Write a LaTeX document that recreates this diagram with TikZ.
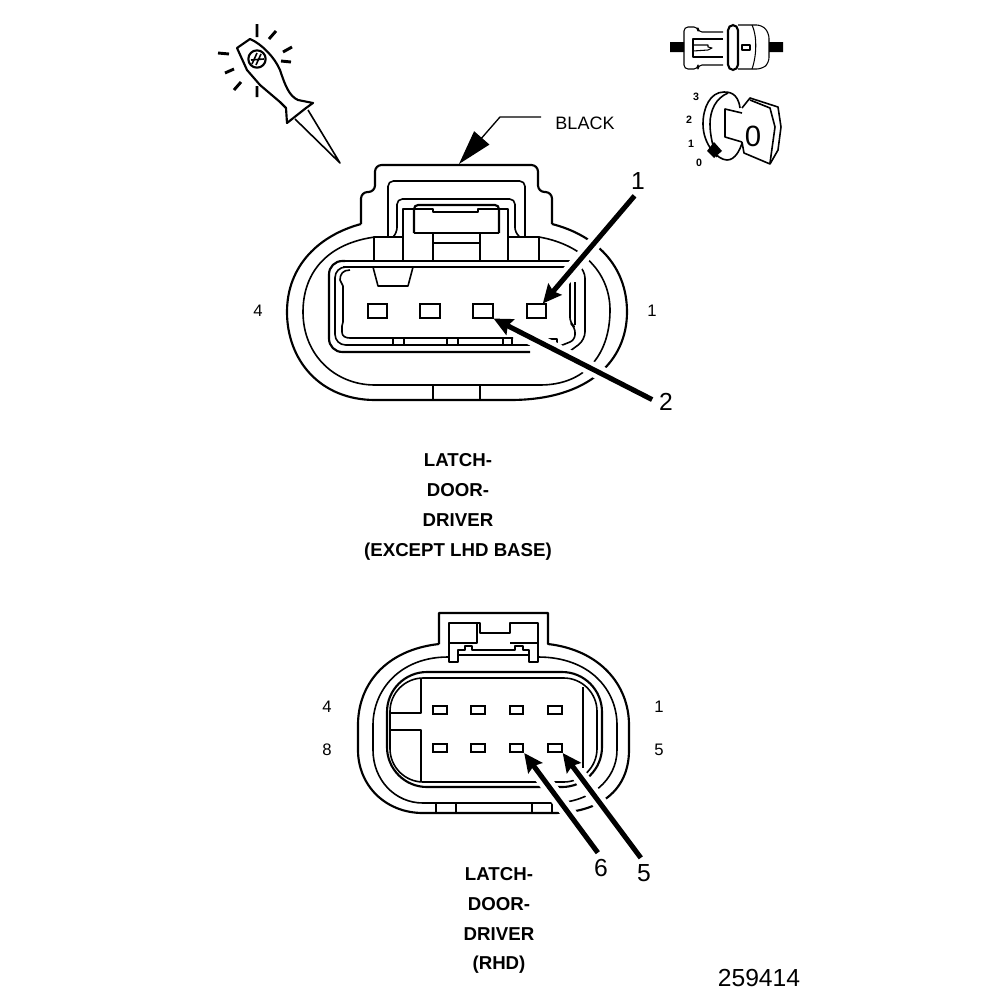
\documentclass[tikz,border=0pt]{standalone}
\usepackage{fontspec}
\setmainfont{Liberation Sans}
\usetikzlibrary{arrows.meta}
\tikzset{
    every picture/.style={x=0.75pt,y=-0.75pt},
    heavy/.style={line width=1.6pt,line join=round},
    medium/.style={line width=1.2pt,line join=round},
    thin line/.style={line width=0.8pt,line join=round},
    ray/.style={line width=2.2pt},
    pinbox/.style={shape=rectangle,draw=black,line width=1.6pt,inner sep=0pt,minimum width=14.5pt,minimum height=10pt},
    smallpin/.style={shape=rectangle,draw=black,line width=1.5pt,inner sep=0pt,minimum width=10pt,minimum height=6pt},
    pinlabel/.style={inner sep=1pt,font=\fontsize{12.5}{14}\selectfont},
    callnum/.style={inner sep=1.5pt,font=\fontsize{18.5}{20}\selectfont},
    title/.style={inner sep=1pt,font=\bfseries\fontsize{14}{16}\selectfont},
    dial/.style={inner sep=0pt,font=\bfseries\fontsize{8}{9}\selectfont},
    callout/.style={line width=3.8pt,shorten <=4pt,-{Stealth[length=14pt,width=13pt,inset=2pt]},
        preaction={draw=white,line width=11pt,arrows=-,shorten >=20pt}},
}
\begin{document}
\begin{tikzpicture}
    \useasboundingbox (0,0) rectangle (1008,1000);

    % probe
    \draw[heavy] (237,48) -- (250,39) .. controls (262,44) and (275,58) .. (280,70) .. controls (285,85) and (289,96) .. (298,100) -- (313,103) -- (306,108) -- (287,123) -- (286,108) -- (280,102) -- (260,85) -- (247,70) -- cycle;
    \draw[medium] (295,119) -- (340,163) -- (308,110);
    \draw[heavy] (257,59) circle (6.5pt);
    \draw[medium] (252,64) -- (257,53) (256,65) -- (261,54) (251,60) -- (264,59);
    \draw[ray] (257,24) -- (257,37) (276,31) -- (269,39) (292,47) -- (283,52) (291,62) -- (281,61);
    \draw[ray] (234,69) -- (225,73) (241,82) -- (234,90) (257,86) -- (257,97) (229,54) -- (218,53);

    % upper right view
    \fill (670,42) rectangle (684,52) (769,42) rectangle (783,52);
    \draw[thin line, rounded corners=3pt] (723,32) -- (698,32) -- (698,27) -- (684,27) -- (684,69) -- (698,69) -- (698,65) -- (723,65);
    \draw[thin line] (723,39) -- (693,39) -- (693,57) -- (723,57);
    \draw[thin line] (693,45) -- (708,45) -- (708,47) -- (712,48) -- (708,50) -- (693,51);
    \draw[heavy, rounded corners=4pt] (728,25) rectangle (738,70);
    \draw[thin line, rounded corners=4pt] (738,25) -- (762,25) -- (769,33) -- (769,63) -- (762,69) -- (738,69);
    \draw[thin line] (752,25) .. controls (757,35) and (757,55) .. (752,69);
    \draw[thin line] (742,45) rectangle (750,50);

    % key
    \draw[medium] (740,108) .. controls (738,92) and (728,92) .. (724,92) .. controls (710,92) and (703,108) .. (703,124) .. controls (703,145) and (718,160) .. (727,160) .. controls (735,160) and (740,150) .. (742,143);
    \draw[medium] (728,93) .. controls (716,98) and (710,110) .. (710,124) .. controls (710,135) and (713,148) .. (717,157);
    \draw[medium] (742,113) -- (725,109) -- (725,137) -- (742,142);
    \draw[medium] (742,108) -- (750,98) -- (778,107) -- (781,127) -- (778,150) -- (770,164) -- (744,153) -- (742,142);
    \draw[medium] (750,100) -- (770,108) -- (775,127) -- (770,163);
    \fill (714,142) -- (722,151) -- (714,158) -- (707,151) -- cycle;
    \node[inner sep=0pt,font=\fontsize{22}{24}\selectfont] at (753,136) (dialzero) {0};
    \node[dial] at (696,97) (dialC) {3};
    \node[dial] at (689,120) (dialB) {2};
    \node[dial] at (691,144) (dialA) {1};
    \node[dial] at (699,163) (dialO) {0};

    % upper connector
    \draw[heavy] (361,224) .. controls (320,235) and (287,265) .. (287,312) .. controls (287,360) and (320,400) .. (375,400) -- (510,400) .. controls (590,400) and (627,360) .. (627,312) .. controls (627,265) and (595,235) .. (552,224);
    \draw[heavy, rounded corners=5pt] (361,224) -- (361,192) -- (375,192) -- (375,165) -- (538,165) -- (538,192) -- (552,192) -- (552,224);
    \draw[medium] (375,237) .. controls (330,243) and (303,270) .. (303,312) .. controls (303,355) and (335,385) .. (375,385) -- (540,385) .. controls (585,385) and (610,355) .. (610,310) .. controls (610,275) and (585,245) .. (539,237);
    \draw[heavy] (433,385) -- (433,400) (480,385) -- (480,400);
    \draw[medium, rounded corners=4pt] (388,237) -- (388,181) -- (525,181) -- (525,237);
    \draw[medium, rounded corners=4pt] (393,237) -- (397,233) -- (397,199) -- (515,199) -- (515,233) -- (520,237);
    \draw[medium] (403,260) -- (403,209) -- (414,209) (499,209) -- (508,209) -- (508,260);
    \draw[heavy, rounded corners=3pt] (414,233) -- (414,205) -- (499,205) -- (499,233);
    \draw[heavy] (414,233) -- (499,233);
    \draw[medium] (414,209) -- (433,209) -- (433,212) -- (478,212) -- (478,209) -- (499,209);
    \draw[medium] (433,233) -- (433,260) (480,233) -- (480,260) (433,243) -- (480,243);
    \draw[medium] (403,237) -- (374,237) -- (374,260) (508,237) -- (539,237) -- (539,260);
    \draw[heavy] (343,261) -- (570,261) (343,267) -- (565,267);
    \draw[heavy, rounded corners=10pt] (345,261) -- (329,261) -- (329,352) -- (530,352);
    \draw[medium, rounded corners=8pt] (345,267) -- (335,267) -- (335,345) -- (530,345);
    \draw[medium] (350,270) .. controls (343,270) and (340,274) .. (340,280) -- (343,286) -- (343,322) -- (342,326) -- (342,332) .. controls (342,336) and (345,338) .. (350,338) -- (513,338);
    \draw[medium, rounded corners=6pt] (574,262) -- (585,270) -- (585,340) -- (570,351);
    \draw[medium, rounded corners=4pt] (570,282) -- (570,323) -- (575,327) -- (575,340) -- (560,346);
    \draw[heavy] (575,282) -- (575,325);
    \draw[medium] (548,339) -- (557,339) -- (557,344);
    \draw[medium] (393,338) -- (393,345) (404,338) -- (404,345) (447,338) -- (447,345) (458,338) -- (458,345) (503,338) -- (503,345) (512,338) -- (512,345);
    \draw[medium] (373,267) -- (378,286) -- (408,286) -- (413,267);
    \node[pinbox] at (377.5,311) (PA) {};
    \node[pinbox,line width=1.3pt] at (430,311) (PB) {};
    \node[pinbox,line width=1.3pt] at (483,311) (PC) {};
    \node[pinbox,line width=1.3pt] at (536.5,311) (PD) {};
    \node[pinlabel] at (258,311) (leftfour) {4};
    \node[pinlabel] at (652,311) (rightone) {1};
    \node[callnum] at (638,181) (callone) {1};
    \node[callnum] at (666,402) (calltwo) {2};
    \draw[callout] (callone.south) -- (PD.50);
    \draw[callout] (calltwo.west) -- (PC.south east);

    % black housing label
    \node[inner sep=1pt,font=\fontsize{13.5}{15}\selectfont] at (585,123) (blacklabel) {BLACK};
    \coordinate (blackstart) at (541,117);
    \coordinate (blacktip) at (459,164);
    \draw[line width=1pt,-{Stealth[length=26pt,width=15pt,inset=0pt]}] (blackstart) -- (500,117) -- (blacktip);

    % upper titles
    \node[title] at (458,460) (upperA) {LATCH-};
    \node[title] at (458,490) (upperB) {DOOR-};
    \node[title] at (458,520) (upperC) {DRIVER};
    \node[title] at (458,552) (upperD) {(EXCEPT LHD BASE)};

    % lower connector
    \draw[heavy] (439,644) -- (439,613) -- (548,613) -- (548,644) .. controls (600,650) and (629,685) .. (629,725) -- (629,750) .. controls (629,790) and (600,813) .. (553,813) -- (423,813) .. controls (385,813) and (358,785) .. (358,750) -- (358,725) .. controls (358,685) and (385,650) .. (439,644);
    \draw[medium] (448,657) .. controls (400,657) and (373,690) .. (373,725) -- (373,750) .. controls (373,780) and (395,803) .. (423,803) -- (553,803) .. controls (590,803) and (617,780) .. (617,750) -- (617,725) .. controls (617,690) and (590,657) .. (538,657);
    \draw[heavy, rounded corners=30pt] (387,672) rectangle (602,787);
    \draw[medium, rounded corners=25pt] (390,678) rectangle (597,782);
    \draw[heavy] (436,803) -- (436,813) (456,803) -- (456,813) (532,803) -- (532,813) (552,803) -- (552,813);
    \draw[medium] (421,678) -- (421,713) -- (390,713) (390,730) -- (421,730) -- (421,782);
    \draw[heavy] (583,687) -- (583,768);
    \draw[heavy] (449,662) -- (449,623) -- (480,623) -- (480,633) -- (510,633) -- (510,623) -- (538,623) -- (538,662) -- (529,662) -- (529,650) -- (523,650) -- (523,646) -- (515,646) -- (515,650) -- (472,650) -- (472,646) -- (465,646) -- (465,650) -- (458,650) -- (458,662) -- cycle;
    \draw[medium] (449,643) -- (477,643) -- (477,623) (510,643) -- (538,643) (458,655) -- (529,655);
    \node[smallpin] at (440,710) (TA) {};
    \node[smallpin] at (478,710) (TB) {};
    \node[smallpin] at (516.5,710) (TC) {};
    \node[smallpin] at (555,710) (TD) {};
    \node[smallpin] at (440,748) (BA) {};
    \node[smallpin] at (478,748) (BB) {};
    \node[smallpin] at (516.5,748) (BC) {};
    \node[smallpin] at (555,748) (BD) {};
    \node[pinlabel] at (327,707) (lowerfour) {4};
    \node[pinlabel] at (327,750) (lowereight) {8};
    \node[pinlabel] at (659,707) (lowerone) {1};
    \node[pinlabel] at (659,750) (lowerfive) {5};
    \node[callnum] at (601,868) (callsix) {6};
    \node[callnum] at (644,873) (callfive) {5};
    \draw[callout] (callsix.north) -- (BC.south east);
    \draw[callout] (callfive.north) -- (BD.south east);

    % lower titles
    \node[title] at (499,874) (lowerA) {LATCH-};
    \node[title] at (499,904) (lowerB) {DOOR-};
    \node[title] at (499,934) (lowerC) {DRIVER};
    \node[title] at (499,965) (lowerD) {(RHD)};

    \node[inner sep=1pt,font=\fontsize{18.5}{20}\selectfont] at (759,978) (partnum) {259414};
\end{tikzpicture}
\end{document}
